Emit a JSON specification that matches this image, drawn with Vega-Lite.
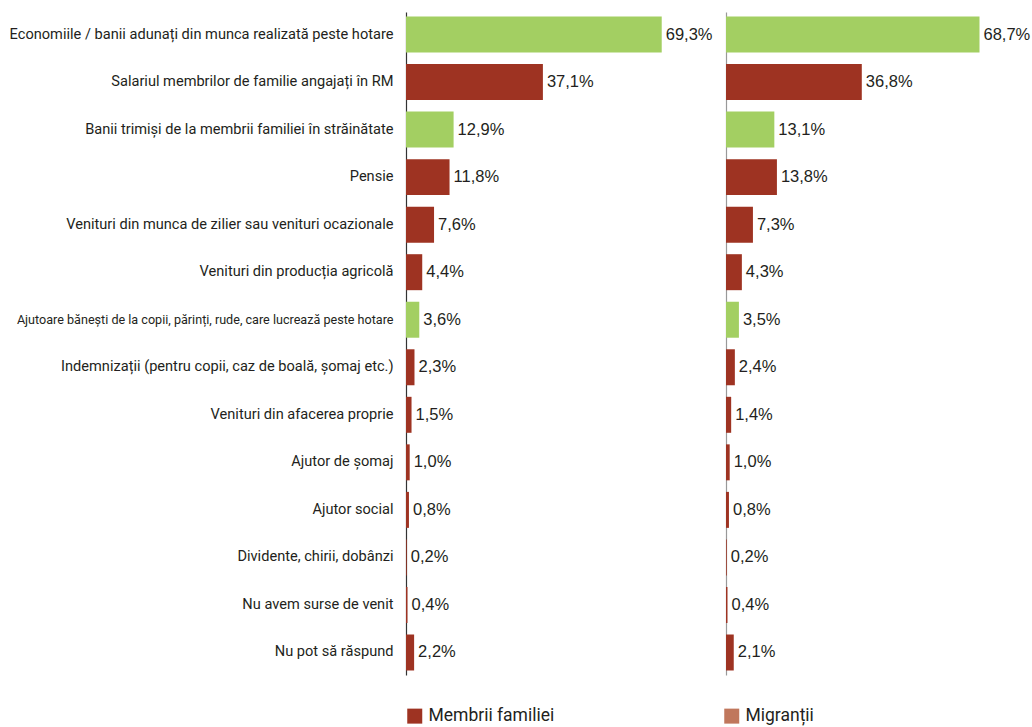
{
  "$schema": "https://vega.github.io/schema/vega-lite/v6.json",
  "padding": {"left": 9, "top": 12, "right": 0, "bottom": 5},
  "background": "white",
  "bounds": "flush",
  "config": {
    "font": "Roboto",
    "view": {"stroke": null},
    "concat": {"spacing": 20}
  },
  "datasets": {
    "d": [
      {"cat": "Economiile / banii adunați din munca realizată peste hotare", "tip": "verde", "fam": 69.3, "mig": 68.7},
      {"cat": "Salariul membrilor de familie angajați în RM", "tip": "Membrii familiei", "fam": 37.1, "mig": 36.8},
      {"cat": "Banii trimiși de la membrii familiei în străinătate", "tip": "verde", "fam": 12.9, "mig": 13.1},
      {"cat": "Pensie", "tip": "Membrii familiei", "fam": 11.8, "mig": 13.8},
      {"cat": "Venituri din munca de zilier sau venituri ocazionale", "tip": "Membrii familiei", "fam": 7.6, "mig": 7.3},
      {"cat": "Venituri din producția agricolă", "tip": "Membrii familiei", "fam": 4.4, "mig": 4.3},
      {"cat": "Ajutoare bănești de la copii, părinți, rude, care lucrează peste hotare", "tip": "verde", "fam": 3.6, "mig": 3.5},
      {"cat": "Indemnizații (pentru copii, caz de boală, șomaj etc.)", "tip": "Membrii familiei", "fam": 2.3, "mig": 2.4},
      {"cat": "Venituri din afacerea proprie", "tip": "Membrii familiei", "fam": 1.5, "mig": 1.4},
      {"cat": "Ajutor de șomaj", "tip": "Membrii familiei", "fam": 1.0, "mig": 1.0},
      {"cat": "Ajutor social", "tip": "Membrii familiei", "fam": 0.8, "mig": 0.8},
      {"cat": "Dividente, chirii, dobânzi", "tip": "Membrii familiei", "fam": 0.2, "mig": 0.2},
      {"cat": "Nu avem surse de venit", "tip": "Membrii familiei", "fam": 0.4, "mig": 0.4},
      {"cat": "Nu pot să răspund", "tip": "Membrii familiei", "fam": 2.2, "mig": 2.1}
    ]
  },
  "hconcat": [
    {
      "width": 300,
      "height": 663,
      "data": {"name": "d"},
      "transform": [
        {"calculate": "replace(format(datum.fam, '.1f'), '.', ',') + '%'", "as": "lbl"}
      ],
      "encoding": {
        "y": {
          "field": "cat", "type": "nominal", "sort": null, "title": null,
          "scale": {"paddingInner": 0.243, "paddingOuter": 0.095},
          "axis": {
            "ticks": false, "domainColor": "#333333", "domainWidth": 1.2,
            "labelPadding": 13, "labelLimit": 600, "labelColor": "#231F20",
            "labelFont": "Roboto",
            "labelFontSize": {"condition": {"test": "indexof(datum.value, 'Ajutoare') == 0", "value": 12.6}, "value": 14.6}
          }
        },
        "x": {"field": "fam", "type": "quantitative", "axis": null, "scale": {"domain": [0, 81.3]}}
      },
      "layer": [
        {
          "mark": {"type": "bar"},
          "encoding": {
            "color": {
              "field": "tip", "type": "nominal",
              "scale": {"domain": ["Membrii familiei", "Migranții", "verde"], "range": ["#9E3322", "#C0775C", "#A3CF62"]},
              "legend": {
                "values": ["Membrii familiei", "Migranții"],
                "title": null, "orient": "none", "direction": "horizontal",
                "legendX": 0, "legendY": 695,
                "symbolType": "square", "symbolSize": 225, "symbolStrokeWidth": 0, "symbolOpacity": 1,
                "labelFont": "Roboto",
                "labelFontSize": 17.5, "labelColor": "#231F20", "labelOffset": 5,
                "columnPadding": 168
              }
            }
          }
        },
        {
          "mark": {"type": "text", "align": "left", "dx": 4, "font": "Liberation Sans", "fontSize": 16.5, "color": "#231F20"},
          "encoding": {"text": {"field": "lbl"}}
        }
      ]
    },
    {
      "width": 300,
      "height": 663,
      "data": {"name": "d"},
      "transform": [
        {"calculate": "replace(format(datum.mig, '.1f'), '.', ',') + '%'", "as": "lbl"}
      ],
      "encoding": {
        "y": {
          "field": "cat", "type": "nominal", "sort": null, "title": null,
          "scale": {"paddingInner": 0.243, "paddingOuter": 0.095},
          "axis": {"ticks": false, "labels": false, "domainColor": "#999999", "domainWidth": 1.2}
        },
        "x": {"field": "mig", "type": "quantitative", "axis": null, "scale": {"domain": [0, 81.3]}}
      },
      "layer": [
        {
          "mark": {"type": "bar"},
          "encoding": {
            "color": {
              "field": "tip", "type": "nominal",
              "scale": {"domain": ["Membrii familiei", "Migranții", "verde"], "range": ["#9E3322", "#C0775C", "#A3CF62"]},
              "legend": null
            }
          }
        },
        {
          "mark": {"type": "text", "align": "left", "dx": 4, "font": "Liberation Sans", "fontSize": 16.5, "color": "#231F20"},
          "encoding": {"text": {"field": "lbl"}}
        }
      ]
    }
  ]
}
